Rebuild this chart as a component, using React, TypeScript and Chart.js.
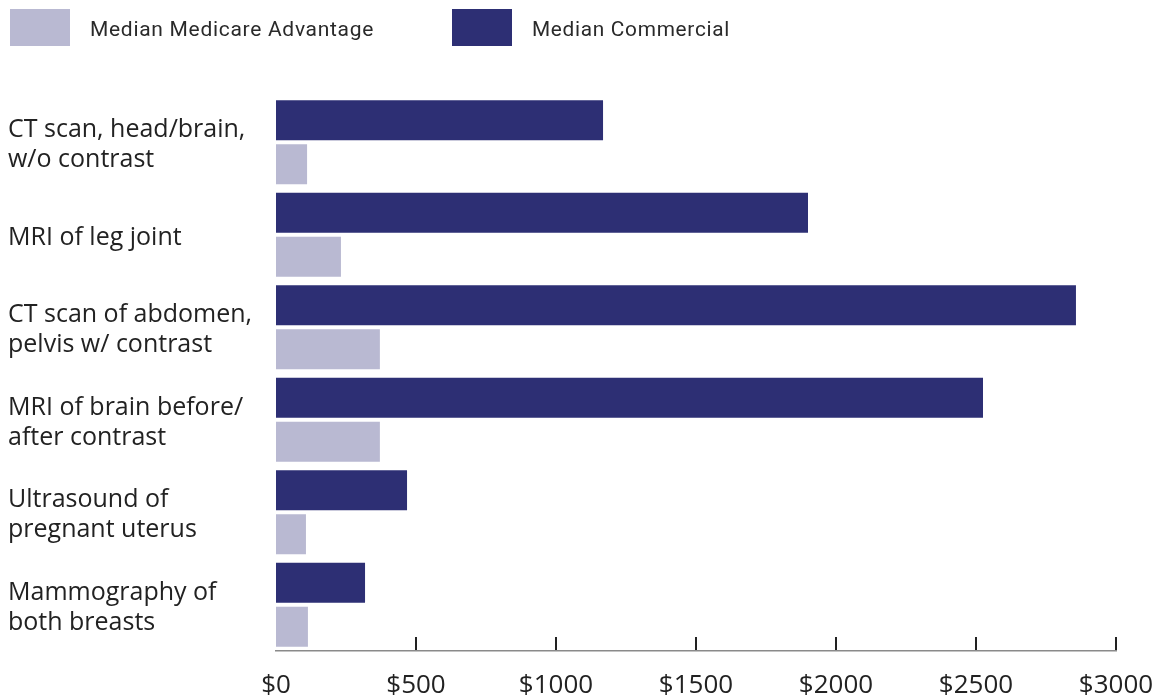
import React, { useEffect, useRef } from "react";
import { Chart, registerables } from "chart.js";

Chart.register(...registerables);

const categories: string[][] = [
  ["CT scan, head/brain,", "w/o contrast"],
  ["MRI of leg joint"],
  ["CT scan of abdomen,", "pelvis w/ contrast"],
  ["MRI of brain before/", "after contrast"],
  ["Ultrasound of", "pregnant uterus"],
  ["Mammography of", "both breasts"],
];
const commercialValues: number[] = [1168, 1900, 2857, 2525, 468, 318];
const medicareAdvantageValues: number[] = [111, 232, 371, 371, 107, 114];
const xTickValues: number[] = [0, 500, 1000, 1500, 2000, 2500, 3000];

const DARK = "#2d2f74";
const LIGHT = "#b9b9d2";
const FONT = "'Open Sans', 'Noto Sans', sans-serif";

const customPlugin = {
  id: "customDecor",
  afterDraw(chart: any) {
    const ctx = chart.ctx;
    const area = chart.chartArea;
    const xs = chart.scales.x;
    ctx.save();
    // tick marks pointing up from the dashed axis line
    ctx.strokeStyle = "#222";
    ctx.lineWidth = 2;
    xTickValues.forEach((v) => {
      if (v === 0) return;
      const px = Math.round(xs.getPixelForValue(v));
      ctx.beginPath();
      ctx.moveTo(px, area.bottom - 1);
      ctx.lineTo(px, area.bottom - 14);
      ctx.stroke();
    });
    // legend (Medicare Advantage first, then Commercial)
    const items = [chart.data.datasets[1], chart.data.datasets[0]];
    const starts = [10, 452];
    const widths = [286, 198];
    ctx.font = "21px 'Roboto', sans-serif";
    try {
      (ctx as any).letterSpacing = "0.7px";
    } catch (e) {}
    ctx.textBaseline = "middle";
    ctx.textAlign = "left";
    items.forEach((ds: any, i: number) => {
      const x = starts[i];
      ctx.fillStyle = ds.backgroundColor;
      ctx.fillRect(x, 9, 60, 37);
      ctx.fillStyle = "#2a2a2a";
      ctx.fillText(ds.label, x + 80, 31, widths[i]);
    });
    ctx.restore();
  },
};

export default function App() {
  const ref = useRef<HTMLCanvasElement | null>(null);
  useEffect(() => {
    if (!ref.current) return;
    const chart = new Chart(ref.current, {
      type: "bar",
      data: {
        labels: categories,
        datasets: [
          {
            label: "Median Commercial",
            data: commercialValues,
            backgroundColor: DARK,
            barPercentage: 0.909,
            categoryPercentage: 0.95,
          },
          {
            label: "Median Medicare Advantage",
            data: medicareAdvantageValues,
            backgroundColor: LIGHT,
            barPercentage: 0.909,
            categoryPercentage: 0.95,
          },
        ],
      },
      options: {
        indexAxis: "y",
        animation: false,
        responsive: false,
        maintainAspectRatio: false,
        layout: { padding: { left: 8, top: 96, right: 41, bottom: 0 } },
        plugins: {
          legend: { display: false },
          tooltip: { enabled: false },
        },
        scales: {
          x: {
            min: 0,
            max: 3000,
            afterBuildTicks: (scale: any) => {
              scale.ticks = xTickValues.map((v) => ({ value: v }));
            },
            afterFit: (scale: any) => {
              scale.height = 47;
              scale.paddingLeft = 0;
              scale.paddingRight = 0;
            },
            grid: { display: false, drawTicks: false },
            border: { display: true, dash: [7, 4], color: "#8a8a8a", width: 1.5 },
            ticks: {
              padding: 19,
              color: "#222",
              font: { family: FONT, size: 26 },
              callback: (v: any) => "$" + v,
              maxRotation: 0,
              autoSkip: false,
            },
          },
          y: {
            afterFit: (scale: any) => {
              scale.width = 268;
            },
            grid: { display: false, drawTicks: false },
            border: { display: false },
            ticks: {
              crossAlign: "far",
              labelOffset: 3,
              color: "#222",
              font: { family: FONT, size: 25, lineHeight: 1.2 },
              autoSkip: false,
            },
          },
        },
      },
      plugins: [customPlugin],
    } as any);
    return () => chart.destroy();
  }, []);
  return (
    <div style={{ position: "fixed", left: 0, top: 0, width: 1157, height: 698, background: "#fff" }}>
      <canvas ref={ref} width={1157} height={698} style={{ width: 1157, height: 698 }} />
    </div>
  );
}
